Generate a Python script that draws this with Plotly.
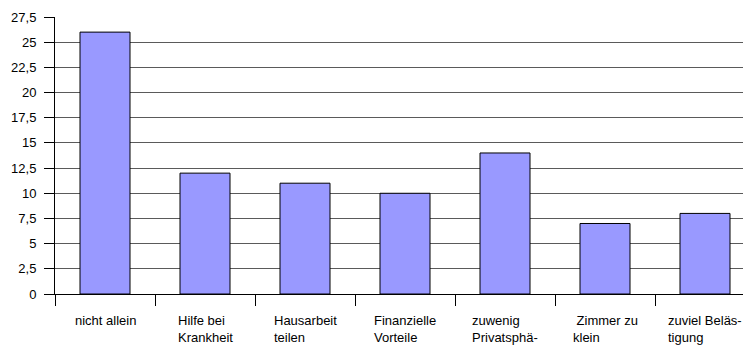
import plotly.graph_objects as go

# Survey categories and their values
categories = ["nicht allein", "Hilfe bei Krankheit", "Hausarbeit teilen", "Finanzielle Vorteile",
              "zuwenig Privatsphäre", "Zimmer zu klein", "zuviel Belästigung"]
label_lines = [
    "nicht allein",
    "Hilfe bei<br>Krankheit",
    "Hausarbeit<br>teilen",
    "Finanzielle<br>Vorteile",
    "zuwenig<br>Privatsphä-",
    " Zimmer zu<br>klein",
    "zuviel Beläs-<br>tigung",
]
values = [26, 12, 11, 10, 14, 7, 8]
y_ticks = [0, 2.5, 5, 7.5, 10, 12.5, 15, 17.5, 20, 22.5, 25, 27.5]

FONT = "Liberation Sans, Arial, sans-serif"
FSIZE = 13

fig = go.Figure(
    go.Bar(
        x=categories,
        y=values,
        width=0.5,
        marker=dict(color="#9999ff", line=dict(color="#000000", width=1)),
    )
)

# Category labels: left-aligned two-line blocks centered under each bar
for cat, txt in zip(categories, label_lines):
    fig.add_annotation(
        x=cat, y=0, xref="x", yref="paper",
        text=txt, showarrow=False,
        xanchor="center", yanchor="top", align="left",
        yshift=-17,
        font=dict(family=FONT, size=FSIZE, color="#000000"),
    )

fig.update_layout(
    width=743, height=345,
    margin=dict(l=55, r=0, t=17, b=51),
    paper_bgcolor="white", plot_bgcolor="white",
    separators=",.",
    showlegend=False,
    font=dict(family=FONT, size=FSIZE, color="#000000"),
)

fig.update_xaxes(
    type="category",
    range=[-0.5, 6.38],
    showticklabels=False,
    tickson="boundaries", ticks="outside", ticklen=11, tickcolor="#000000",
    showline=True, linecolor="#000000", linewidth=1,
    showgrid=False, zeroline=False,
)

fig.update_yaxes(
    range=[0, 27.5],
    tickmode="array", tickvals=y_ticks,
    ticktext=[f"{v:g}".replace(".", ",") for v in y_ticks],
    ticks="outside", ticklen=10, tickcolor="#000000",
    ticklabelstandoff=5,
    showline=True, linecolor="#000000", linewidth=1,
    showgrid=True, gridcolor="#5a5a5a", gridwidth=1,
    zeroline=False,
    tickfont=dict(family=FONT, size=FSIZE, color="#000000"),
)

fig.write_html("out.html")
